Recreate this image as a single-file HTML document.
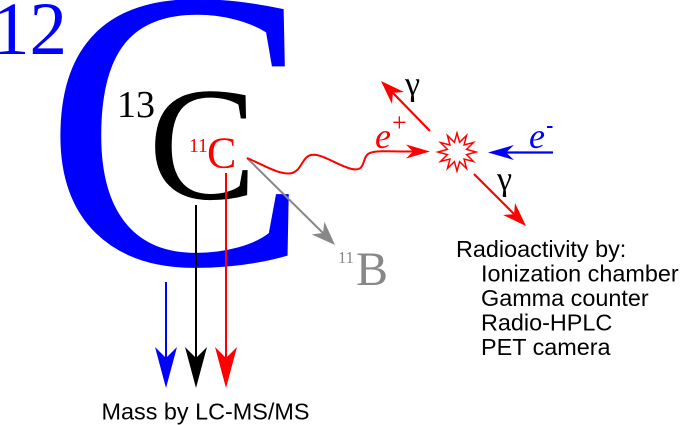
<!DOCTYPE html>
<html>
<head>
<meta charset="utf-8">
<style>
html,body{margin:0;padding:0;background:#fff;}
svg{display:block;}
</style>
</head>
<body>
<svg width="685" height="425" viewBox="0 0 685 425" xmlns="http://www.w3.org/2000/svg">
  <!-- big blue 12C -->
  <text x="44" y="264" font-family="Liberation Serif, serif" font-size="400" fill="#0000ff">C</text>
  <text x="-8" y="54" font-family="Liberation Serif, serif" font-size="75" fill="#0000ff">12</text>

  <!-- black 13C -->
  <text x="117" y="117" font-family="Liberation Serif, serif" font-size="38" fill="#000">13</text>
  <text x="148.5" y="198.5" font-family="Liberation Serif, serif" font-size="162" fill="#000">C</text>

  <!-- red 11C -->
  <text x="189" y="152" font-family="Liberation Serif, serif" font-size="19.5" fill="#ff0000">11</text>
  <text x="207" y="167.5" font-family="Liberation Serif, serif" font-size="44" fill="#ff0000">C</text>

  <!-- vertical arrows -->
  <line x1="166" y1="282" x2="166" y2="360" stroke="#0000ff" stroke-width="2"/>
  <polygon points="166,388 155,347 166,358 177,347" fill="#0000ff"/>
  <line x1="196" y1="205" x2="196" y2="360" stroke="#000" stroke-width="2"/>
  <polygon points="196,388 185,347 196,358 207,347" fill="#000"/>
  <line x1="226" y1="173" x2="226" y2="360" stroke="#ff0000" stroke-width="2"/>
  <polygon points="226,388 215,347 226,358 237,347" fill="#ff0000"/>

  <text x="101.5" y="419.5" font-family="Liberation Sans, Arial, sans-serif" font-size="23.4" fill="#000">Mass by LC-MS/MS</text>

  <!-- gray arrow to 11B -->
  <line x1="247" y1="158" x2="323" y2="233" stroke="#888" stroke-width="2"/>
  <polygon points="335,245 311.6,234.4 323,233 324.4,221.6" fill="#888"/>
  <text x="338" y="263" font-family="Liberation Serif, serif" font-size="16.5" fill="#888">11</text>
  <text x="356" y="285" font-family="Liberation Serif, serif" font-size="48" fill="#888">B</text>

  <!-- red wavy positron path -->
  <path d="M247,158 C262,164 280,176 292,173 C302,170 302,157 311,155 C322,153 338,166 352,169 C366,172 362,158 368,154 C373,150 385,151.5 413,151.5" fill="none" stroke="#ff0000" stroke-width="2"/>
  <polygon points="430,151.5 406,144.5 413,151.5 406,158.5" fill="#ff0000"/>
  <text x="375" y="148" font-family="Liberation Serif, serif" font-style="italic" font-size="36" fill="#ff0000">e</text>
  <text x="392" y="131" font-family="Liberation Serif, serif" font-size="26" fill="#ff0000">+</text>

  <!-- starburst -->
  <polygon points="476,152 466.66,154.59 473.45,161.5 464.07,159.07 466.5,168.45 459.59,161.66 457,171 454.41,161.66 447.5,168.45 449.93,159.07 440.55,161.5 447.34,154.59 438,152 447.34,149.41 440.55,142.5 449.93,144.93 447.5,135.55 454.41,142.34 457,133 459.59,142.34 466.5,135.55 464.07,144.93 473.45,142.5 466.66,149.41" fill="#fff" stroke="#ff0000" stroke-width="1.5" stroke-linejoin="miter"/>

  <!-- upper gamma -->
  <line x1="430" y1="131" x2="393" y2="93" stroke="#ff0000" stroke-width="2.2"/>
  <polygon points="381,81 404,92 392.9,92.9 392,104" fill="#ff0000"/>
  <text x="405" y="95" font-family="Liberation Serif, serif" font-size="34" fill="#000">γ</text>

  <!-- lower gamma -->
  <line x1="474" y1="174" x2="514" y2="214" stroke="#ff0000" stroke-width="2.2"/>
  <polygon points="526,226 503,215 514.1,214.1 515,203" fill="#ff0000"/>
  <text x="497" y="190" font-family="Liberation Serif, serif" font-size="34" fill="#000">γ</text>

  <!-- electron -->
  <line x1="506" y1="152.5" x2="553" y2="152.5" stroke="#0000ff" stroke-width="2.2"/>
  <polygon points="488,152.5 514,145 506,152.5 514,160" fill="#0000ff"/>
  <text x="529" y="148" font-family="Liberation Serif, serif" font-style="italic" font-size="36" fill="#0000ff">e</text>
  <rect x="547" y="126" width="5.5" height="2" fill="#0000ff"/>

  <!-- radioactivity text -->
  <g font-family="Liberation Sans, Arial, sans-serif" font-size="23.4" fill="#000">
    <text x="456" y="257">Radioactivity by:</text>
    <text x="481" y="281.5">Ionization chamber</text>
    <text x="481" y="306">Gamma counter</text>
    <text x="481" y="330.5">Radio-HPLC</text>
    <text x="481" y="355">PET camera</text>
  </g>
</svg>
</body>
</html>
